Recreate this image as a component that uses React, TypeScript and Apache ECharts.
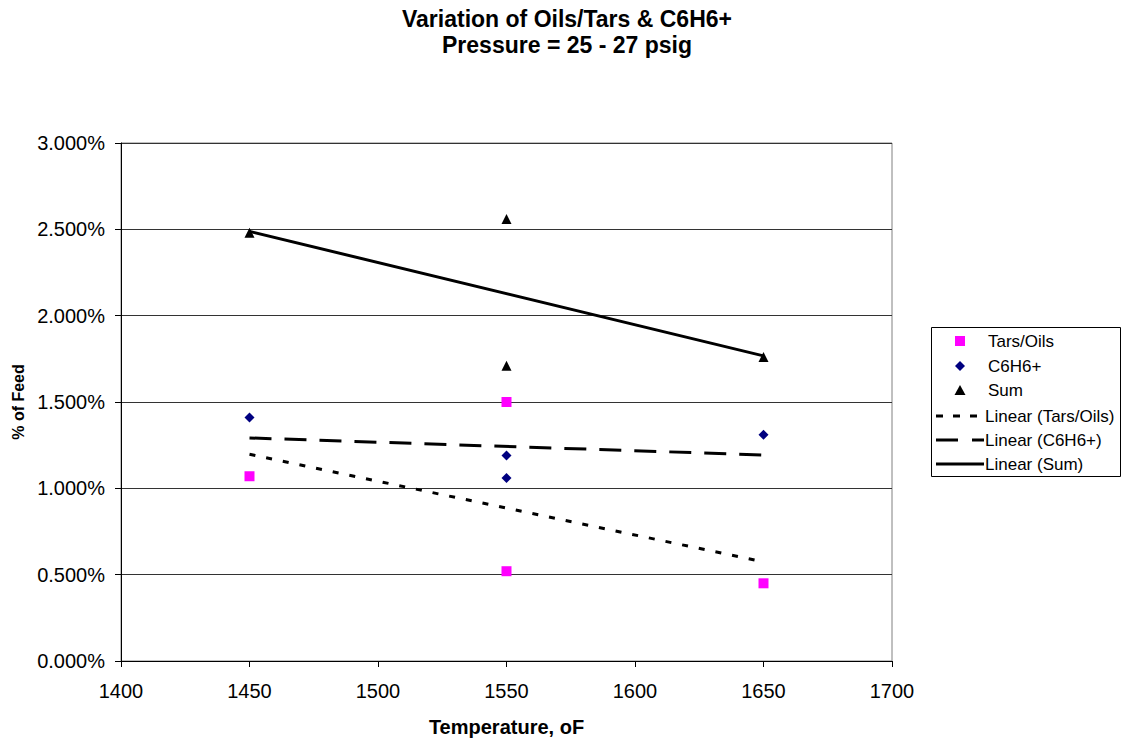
import React, { useEffect, useRef } from "react";
import * as echarts from "echarts";

const title = "Variation of Oils/Tars & C6H6+";
const subtitle = "Pressure = 25 - 27 psig";
const temps = [1450, 1550, 1550, 1650];
const tarsOils = [1.07, 1.5, 0.52, 0.45];
const c6h6 = [1.41, 1.06, 1.19, 1.31];
const sum = [2.48, 2.56, 1.71, 1.76];
const trendX = [1450, 1650];
const trendTars = [1.197, 0.574];
const trendC6 = [1.292, 1.193];
const trendSum = [2.488, 1.767];
const legendNames = ["Tars/Oils", "C6H6+", "Sum", "Linear (Tars/Oils)", "Linear (C6H6+)", "Linear (Sum)"];

const pairs = (xs: number[], ys: number[]) => xs.map((x, i) => [x, ys[i]]);

export default function App() {
  const ref = useRef<HTMLDivElement>(null);
  useEffect(() => {
    const chart = echarts.init(ref.current!, null, { renderer: "svg" });
    const font = "Liberation Sans, Arial, sans-serif";
    const rowY = [341, 366, 390, 416, 440, 464];
    const legendGraphics: any[] = [
      {
        type: "rect",
        shape: { x: 931.5, y: 327.5, width: 189, height: 149 },
        style: { fill: "#fff", stroke: "#000", lineWidth: 1 },
        z: 10,
      },
      {
        type: "rect",
        shape: { x: 955, y: rowY[0] - 5, width: 10, height: 10 },
        style: { fill: "#FF00FF" },
        z: 11,
      },
      {
        type: "polygon",
        shape: { points: [[960, rowY[1] - 5], [965, rowY[1]], [960, rowY[1] + 5], [955, rowY[1]]] },
        style: { fill: "#000080" },
        z: 11,
      },
      {
        type: "polygon",
        shape: { points: [[960, rowY[2] - 5], [965.5, rowY[2] + 5], [954.5, rowY[2] + 5]] },
        style: { fill: "#000" },
        z: 11,
      },
      {
        type: "line",
        shape: { x1: 936, y1: rowY[3], x2: 983, y2: rowY[3] },
        style: { stroke: "#000", lineWidth: 3, lineDash: [7, 10] },
        z: 11,
      },
      {
        type: "line",
        shape: { x1: 936, y1: rowY[4], x2: 984, y2: rowY[4] },
        style: { stroke: "#000", lineWidth: 3, lineDash: [22, 14] },
        z: 11,
      },
      {
        type: "line",
        shape: { x1: 936, y1: rowY[5], x2: 984, y2: rowY[5] },
        style: { stroke: "#000", lineWidth: 3 },
        z: 11,
      },
      ...legendNames.map((n, i) => ({
        type: "text",
        x: i < 3 ? 988 : 985,
        y: rowY[i],
        style: {
          text: n,
          fill: "#000",
          font: "17px " + font,
          textVerticalAlign: "middle",
          verticalAlign: "middle",
        },
        z: 11,
      })),
    ];
    chart.setOption({
      animation: false,
      backgroundColor: "#fff",
      textStyle: { fontFamily: font },
      title: {
        text: title + "\n" + subtitle,
        left: 562,
        top: 1,
        textAlign: "center",
        textStyle: { fontSize: 23, fontWeight: "bold", color: "#000", lineHeight: 26, fontFamily: font },
      },
      grid: {
        left: 121,
        top: 143,
        right: 232,
        bottom: 81,
        show: true,
        borderColor: "#808080",
        borderWidth: 1,
        containLabel: false,
        outerBoundsMode: "none",
      },
      xAxis: {
        type: "value",
        min: 1400,
        max: 1700,
        interval: 50,
        name: "Temperature, oF",
        nameLocation: "middle",
        nameGap: 56,
        nameTextStyle: { fontSize: 20, fontWeight: "bold", color: "#000", fontFamily: font },
        axisLine: { show: true, onZero: false, lineStyle: { color: "#000", width: 1 } },
        axisTick: { show: true, length: 6, lineStyle: { color: "#000" } },
        axisLabel: {
          fontSize: 20,
          color: "#000",
          margin: 20,
          fontFamily: font,
          formatter: (v: number) => String(v),
        },
        splitLine: { show: false },
      },
      yAxis: {
        type: "value",
        min: 0,
        max: 3,
        interval: 0.5,
        name: "% of Feed",
        nameLocation: "middle",
        nameGap: 93,
        nameRotate: 90,
        nameTextStyle: { fontSize: 16, fontWeight: "bold", color: "#000", fontFamily: font },
        axisLine: { show: true, lineStyle: { color: "#000", width: 1 } },
        axisTick: { show: true, length: 6, lineStyle: { color: "#000" } },
        axisLabel: {
          fontSize: 20,
          color: "#000",
          margin: 16,
          fontFamily: font,
          formatter: (v: number) => v.toFixed(3) + "%",
        },
        splitLine: { show: true, lineStyle: { color: "#333", width: 1 } },
      },
      legend: { show: false },
      graphic: legendGraphics,
      series: [
        {
          name: "Linear (Tars/Oils)",
          type: "line",
          data: pairs(trendX, trendTars),
          symbol: "none",
          lineStyle: { color: "#000", width: 3, type: [6, 11] },
          z: 1,
        },
        {
          name: "Linear (C6H6+)",
          type: "line",
          data: pairs(trendX, trendC6),
          symbol: "none",
          lineStyle: { color: "#000", width: 3, type: [22, 13] },
          z: 1,
        },
        {
          name: "Linear (Sum)",
          type: "line",
          data: pairs(trendX, trendSum),
          symbol: "none",
          lineStyle: { color: "#000", width: 3, type: "solid" },
          z: 1,
        },
        {
          name: "Tars/Oils",
          type: "scatter",
          data: pairs(temps, tarsOils),
          symbol: "rect",
          symbolSize: 10,
          itemStyle: { color: "#FF00FF", opacity: 1 },
          z: 3,
        },
        {
          name: "C6H6+",
          type: "scatter",
          data: pairs(temps, c6h6),
          symbol: "diamond",
          symbolSize: 10,
          itemStyle: { color: "#000080", opacity: 1 },
          z: 3,
        },
        {
          name: "Sum",
          type: "scatter",
          data: pairs(temps, sum),
          symbol: "triangle",
          symbolSize: 10,
          itemStyle: { color: "#000", opacity: 1 },
          z: 3,
        },
      ],
    });
    return () => chart.dispose();
  }, []);
  return (
    <div
      ref={ref}
      style={{ position: "fixed", left: 0, top: 0, width: 1124, height: 742 }}
    />
  );
}
